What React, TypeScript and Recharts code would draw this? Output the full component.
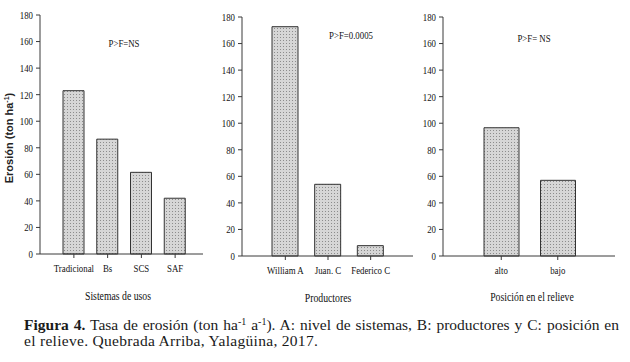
import React from "react";
import { Bar, BarChart, XAxis, YAxis } from "recharts";

const sistemas = ["Tradicional", "Bs", "SCS", "SAF"];
const sistemasErosion = [123, 86.5, 61.5, 42];

const productores = ["William A", "Juan. C", "Federico C"];
const productoresErosion = [172.7, 54, 7.8];

const posiciones = ["alto", "bajo"];
const posicionErosion = [96.6, 57];

const yTicks = [0, 20, 40, 60, 80, 100, 120, 140, 160, 180];

const SERIF = "Liberation Serif";
const AXIS = "#3a3a3a";

function toRows(names: string[], values: number[]) {
  return names.map((name, i) => ({ name, value: values[i] }));
}

function CondTick(props: any) {
  const { x, y, payload, textAnchor, sx, size, dy } = props;
  return (
    <g transform={`translate(${x},${y})`}>
      <text
        transform={`scale(${sx},1)`}
        textAnchor={textAnchor}
        dy={dy}
        fontFamily={SERIF}
        fontSize={size}
        fill="#111"
      >
        {payload.value}
      </text>
    </g>
  );
}

type PanelProps = {
  id: string;
  left: number;
  names: string[];
  values: number[];
  top: number;
  right: number;
  yWidth: number;
  xHeight: number;
  padL: number;
  padR: number;
  barSize: number;
};

function Panel(p: PanelProps) {
  const data = toRows(p.names, p.values);
  return (
    <div style={{ position: "absolute", left: p.left, top: 0 }}>
      <BarChart
        width={210}
        height={310}
        data={data}
        margin={{ top: p.top, right: p.right, left: 0, bottom: 0 }}
      >
        <defs>
          <pattern id={p.id} width="3" height="3" patternUnits="userSpaceOnUse">
            <rect width="3" height="3" fill="#d6d6d6" />
            <rect x="1" y="1" width="1" height="1" fill="#8c8c8c" />
          </pattern>
        </defs>
        <XAxis
          dataKey="name"
          height={p.xHeight}
          padding={{ left: p.padL, right: p.padR }}
          stroke={AXIS}
          tickSize={4}
          tickMargin={6}
          tick={(t: any) => <CondTick {...t} sx={0.8} size={11} dy="0.71em" />}
          interval={0}
        />
        <XAxis
          xAxisId="top"
          dataKey="name"
          orientation="top"
          height={0}
          tick={false}
          tickLine={false}
          stroke={AXIS}
          padding={{ left: p.padL, right: p.padR }}
        />
        <YAxis
          width={p.yWidth}
          domain={[0, 180]}
          ticks={yTicks}
          interval={0}
          stroke={AXIS}
          tickSize={4}
          tickMargin={3}
          tick={(t: any) => <CondTick {...t} sx={0.8} size={11} dy="0.35em" />}
        />
        <YAxis
          yAxisId="right"
          orientation="right"
          width={0}
          domain={[0, 180]}
          tick={false}
          tickLine={false}
          stroke={AXIS}
        />
        <Bar
          dataKey="value"
          fill={`url(#${p.id})`}
          stroke="#333"
          strokeWidth={1}
          barSize={p.barSize}
          isAnimationActive={false}
        />
      </BarChart>
    </div>
  );
}

function Note(props: { x: number; y: number; size: number; sx: number; children: React.ReactNode }) {
  return (
    <g transform={`translate(${props.x},${props.y})`}>
      <text
        transform={`scale(${props.sx},1)`}
        textAnchor="middle"
        dy="0.35em"
        fontFamily={SERIF}
        fontSize={props.size}
        fill="#111"
      >
        {props.children}
      </text>
    </g>
  );
}

const supStyle: React.CSSProperties = { fontSize: 10, lineHeight: 0, verticalAlign: "5px" };

export default function App() {
  return (
    <div
      style={{
        position: "absolute",
        left: 0,
        top: 0,
        width: 630,
        height: 362,
        background: "#fff",
        overflow: "hidden",
      }}
    >
      <Panel
        id="dotsA"
        left={0}
        names={sistemas}
        values={sistemasErosion}
        top={15}
        right={7}
        yWidth={40}
        xHeight={56}
        padL={17}
        padR={11}
        barSize={21}
      />
      <Panel
        id="dotsB"
        left={210}
        names={productores}
        values={productoresErosion}
        top={17}
        right={7}
        yWidth={32}
        xHeight={54}
        padL={22}
        padR={21}
        barSize={26}
      />
      <Panel
        id="dotsC"
        left={420}
        names={posiciones}
        values={posicionErosion}
        top={17}
        right={15}
        yWidth={23}
        xHeight={54}
        padL={30}
        padR={29}
        barSize={35}
      />
      <svg
        width={630}
        height={310}
        style={{ position: "absolute", left: 0, top: 0, pointerEvents: "none" }}
      >
        <Note x={124} y={43} size={11} sx={0.8}>P&gt;F=NS</Note>
        <Note x={351} y={35} size={11} sx={0.8}>P&gt;F=0.0005</Note>
        <Note x={534} y={38} size={11} sx={0.8}>P&gt;F= NS</Note>
        <Note x={118} y={295} size={13} sx={0.75}>Sistemas de usos</Note>
        <Note x={328} y={297} size={13} sx={0.75}>Productores</Note>
        <Note x={532} y={296} size={13} sx={0.75}>Posición en el relieve</Note>
        <g transform="translate(9,138) rotate(-90)">
          <text
            textAnchor="middle"
            dy="0.35em"
            fontFamily="Liberation Sans"
            fontSize={11}
            fontWeight="bold"
            fill="#222"
          >
            Erosión (ton ha
            <tspan dy="-4" fontSize={7}>-1</tspan>
            <tspan dy="4">)</tspan>
          </text>
        </g>
      </svg>
      <div
        style={{
          position: "absolute",
          left: 24,
          top: 317,
          width: 595,
          fontFamily: SERIF,
          fontSize: 15.5,
          lineHeight: "16px",
          color: "#1a1a1a",
          whiteSpace: "nowrap",
        }}
      >
        <div style={{ textAlign: "justify", textAlignLast: "justify" }}>
          <b>Figura 4.</b> Tasa de erosión (ton ha<sup style={supStyle}>-1</sup> a
          <sup style={supStyle}>-1</sup>). A: nivel de sistemas, B: productores y C: posición en
        </div>
        <div style={{ letterSpacing: 0.3 }}>el relieve. Quebrada Arriba, Yalagüina, 2017.</div>
      </div>
    </div>
  );
}
